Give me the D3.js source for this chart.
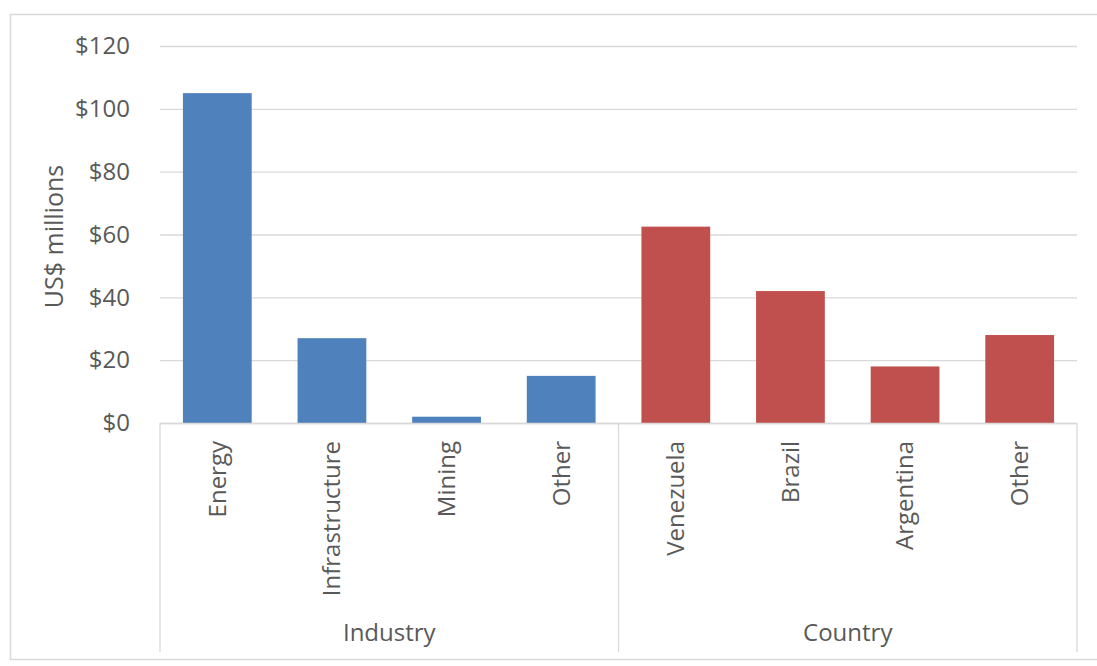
<!DOCTYPE html>
<html>
<head>
<meta charset="utf-8">
<script src="https://cdn.jsdelivr.net/npm/d3@7"></script>
<style>
  html, body { margin: 0; padding: 0; background: #ffffff; }
  svg { display: block; }
  text { font-family: "Open Sans", "Liberation Sans", sans-serif; fill: #595959; }
</style>
</head>
<body>
<svg id="chart" width="1097" height="666"></svg>
<script>
// Financing by industry and by country (US$ millions)
const categories = ["Energy", "Infrastructure", "Mining", "Other", "Venezuela", "Brazil", "Argentina", "Other"];
const values = [105, 27, 2, 15, 62.5, 42, 18, 28];
const categoryGroup = ["Industry", "Industry", "Industry", "Industry", "Country", "Country", "Country", "Country"];
const groups = ["Industry", "Country"];
const groupColors = ["#4f81bd", "#c0504d"];
const yTicks = [0, 20, 40, 60, 80, 100, 120];
const yTitle = "US$ millions";

const svg = d3.select("#chart");
const plotLeft = 160, plotRight = 1077, plotTop = 46, plotBase = 423, axisBottom = 652;

// outer chart frame
svg.append("rect")
  .attr("x", 10.5).attr("y", 14.5)
  .attr("width", 1100).attr("height", 645)
  .attr("fill", "#ffffff")
  .attr("stroke", "#d9d9d9").attr("stroke-width", 1.5);

const x = d3.scaleBand()
  .domain(d3.range(categories.length))
  .range([plotLeft, plotRight])
  .paddingInner(0.4)
  .paddingOuter(0.2);

const y = d3.scaleLinear().domain([0, 120]).range([plotBase, plotTop]);

const color = d3.scaleOrdinal().domain(groups).range(groupColors);

// gridlines and value labels
const yAxis = d3.axisLeft(y)
  .tickValues(yTicks)
  .tickSize(-(plotRight - plotLeft))
  .tickPadding(30)
  .tickFormat(d => "$" + d);

const gy = svg.append("g")
  .attr("transform", `translate(${plotLeft},0)`)
  .call(yAxis);
gy.select(".domain").remove();
gy.selectAll(".tick line").attr("stroke", "#d9d9d9").attr("stroke-width", 1.3);
gy.selectAll(".tick text")
  .attr("x", -30)
  .style("font-size", "24px")
  .attr("fill", "#595959");

// bars
svg.append("g")
  .selectAll("rect")
  .data(values)
  .join("rect")
  .attr("x", (d, i) => x(i))
  .attr("width", x.bandwidth())
  .attr("y", d => y(d))
  .attr("height", d => y(0) - y(d))
  .attr("fill", (d, i) => color(categoryGroup[i]));

// category axis: baseline and group separators
const axisG = svg.append("g").attr("stroke", "#d9d9d9").attr("stroke-width", 1.3);
axisG.append("line")
  .attr("x1", plotLeft).attr("x2", plotRight)
  .attr("y1", y(0) + 0.5).attr("y2", y(0) + 0.5);

const groupBounds = groups.map(g => {
  const idx = d3.range(categories.length).filter(i => categoryGroup[i] === g);
  const i0 = d3.min(idx), i1 = d3.max(idx);
  const x0 = i0 === 0 ? plotLeft : (x(i0) + x(i0 - 1) + x.bandwidth()) / 2;
  const x1 = i1 === categories.length - 1 ? plotRight : (x(i1) + x.bandwidth() + x(i1 + 1)) / 2;
  return { name: g, x0, x1 };
});
const sepXs = Array.from(new Set(groupBounds.flatMap(b => [b.x0, b.x1])));
axisG.selectAll("line.sep")
  .data(sepXs)
  .join("line")
  .attr("class", "sep")
  .attr("x1", d => d).attr("x2", d => d)
  .attr("y1", y(0)).attr("y2", axisBottom);

// rotated category labels
svg.append("g")
  .selectAll("text")
  .data(categories)
  .join("text")
  .attr("transform", (d, i) => `translate(${x(i) + x.bandwidth() / 2},441) rotate(-90)`)
  .attr("text-anchor", "end")
  .attr("dy", "0.35em")
  .style("font-size", "24px")
  .text(d => d);

// group labels
svg.append("g")
  .selectAll("text")
  .data(groupBounds)
  .join("text")
  .attr("x", d => (d.x0 + d.x1) / 2)
  .attr("y", 641)
  .attr("text-anchor", "middle")
  .style("font-size", "24px")
  .text(d => d.name);

// value axis title
svg.append("text")
  .attr("transform", `translate(54,${(plotTop + plotBase) / 2 + 2}) rotate(-90)`)
  .attr("text-anchor", "middle")
  .attr("dy", "0.35em")
  .style("font-size", "25px")
  .text(yTitle);
</script>
</body>
</html>
